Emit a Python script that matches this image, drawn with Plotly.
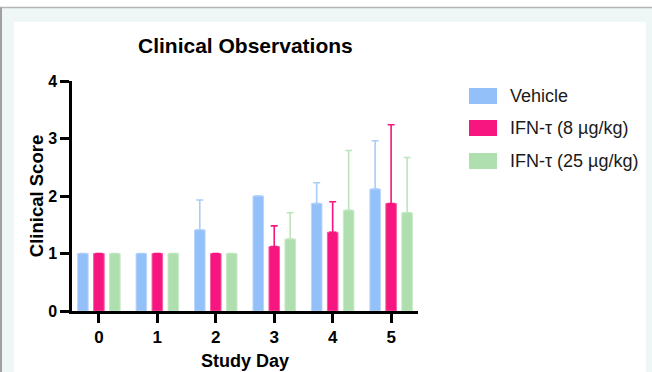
import plotly.graph_objects as go

days = [0, 1, 2, 3, 4, 5]
series_names = ["Vehicle", "IFN-τ (8 µg/kg)", "IFN-τ (25 µg/kg)"]
vehicle = [1.0, 1.0, 1.41, 2.0, 1.87, 2.12]
ifn8 = [1.0, 1.0, 1.0, 1.12, 1.37, 1.87]
ifn25 = [1.0, 1.0, 1.0, 1.25, 1.75, 1.71]
vehicle_err = [None, None, 0.52, None, 0.36, 0.84]
ifn8_err = [None, None, None, 0.36, 0.53, 1.37]
ifn25_err = [None, None, None, 0.46, 1.04, 0.96]
y_ticks = [0, 1, 2, 3, 4]

colors = ["#93C0F8", "#F7157F", "#AFDFAE"]
edge_colors = ["#B9D6FA", "#F85CA3", "#C9EAC8"]
err_colors = ["#A9CCF9", "#F7157F", "#BCE5BB"]

W, H = 652, 372
L, R, T, B = 72, 418, 81, 311  # plot area in pixels

def px(x):
    return (x - L) / (R - L)

def py(y):
    return (B - y) / (B - T)

FONT = "Liberation Sans, Arial, sans-serif"

fig = go.Figure()
for name, vals, errs, c, ec, erc in zip(series_names, [vehicle, ifn8, ifn25],
                                        [vehicle_err, ifn8_err, ifn25_err],
                                        colors, edge_colors, err_colors):
    fig.add_trace(go.Bar(
        x=days, y=vals, name=name,
        marker=dict(color=c, line=dict(color=ec, width=1)),
        error_y=dict(type="data", array=errs, arrayminus=[0] * len(errs),
                     symmetric=False, color=erc, thickness=1.6, width=3.5),
        showlegend=False,
    ))

shapes = [
    # white strip above frame line
    dict(type="rect", xref="paper", yref="paper", x0=px(-2), x1=px(W + 2), y0=py(-2), y1=py(7),
         fillcolor="white", line=dict(width=0), layer="below"),
    # white panel
    dict(type="rect", xref="paper", yref="paper", x0=px(14), x1=px(646), y0=py(22), y1=py(H + 5),
         fillcolor="white", line=dict(width=0), layer="below"),
    # frame lines
    dict(type="line", xref="paper", yref="paper", x0=px(0), x1=px(W + 2), y0=py(7.5), y1=py(7.5),
         line=dict(color="#B5B5B5", width=1.5), layer="below"),
    dict(type="line", xref="paper", yref="paper", x0=px(1), x1=px(1), y0=py(7.5), y1=py(H + 5),
         line=dict(color="#A0A0A0", width=2), layer="below"),
]

annotations = []
legend_rows = [96, 128, 161]
for name, c, yrow in zip(series_names, colors, legend_rows):
    shapes.append(dict(type="rect", xref="paper", yref="paper",
                       x0=px(469), x1=px(497), y0=py(yrow - 8), y1=py(yrow + 8),
                       fillcolor=c, line=dict(width=0)))
    annotations.append(dict(xref="paper", yref="paper", x=px(508), y=py(yrow),
                            xanchor="left", yanchor="middle", showarrow=False,
                            text=name, font=dict(family=FONT, size=18, color="#1a1a1a")))

annotations.append(dict(xref="paper", yref="paper", x=px((L + R) / 2), y=py(45),
                        xanchor="center", yanchor="middle", showarrow=False,
                        text="<b>Clinical Observations</b>",
                        font=dict(family=FONT, size=21, color="black")))

fig.update_layout(
    width=W, height=H,
    margin=dict(l=L, r=W - R, t=T, b=H - B, pad=0, autoexpand=False),
    paper_bgcolor="#EEF7F6", plot_bgcolor="white",
    barmode="group", bargap=0.18, bargroupgap=0.34,
    shapes=shapes, annotations=annotations,
    font=dict(family=FONT, color="black"),
    xaxis=dict(range=[-0.46, 5.46], tickvals=days, ticktext=[f"<b>{d}</b>" for d in days],
               automargin=False,
               showgrid=False, zeroline=False, showline=True, linecolor="black", linewidth=2.5,
               ticks="outside", ticklen=9, tickwidth=2.5, tickcolor="black",
               tickfont=dict(family=FONT, size=17, color="black"),
               title=dict(text="<b>Study Day</b>", font=dict(family=FONT, size=18, color="black"),
                          standoff=9)),
    yaxis=dict(range=[0, 4], tickvals=y_ticks, ticktext=[f"<b>{t}</b>" for t in y_ticks],
               automargin=False,
               showgrid=False, zeroline=False, showline=True, linecolor="black", linewidth=2.5,
               ticks="outside", ticklen=9, tickwidth=2.5, tickcolor="black",
               tickfont=dict(family=FONT, size=16, color="black"),
               title=dict(text="<b>Clinical Score</b>", font=dict(family=FONT, size=18.5, color="black"),
                          standoff=0)),
)

fig.write_html("out.html", config={"displayModeBar": False},
               post_script="document.body.style.margin='0';document.body.style.overflow='hidden';")
